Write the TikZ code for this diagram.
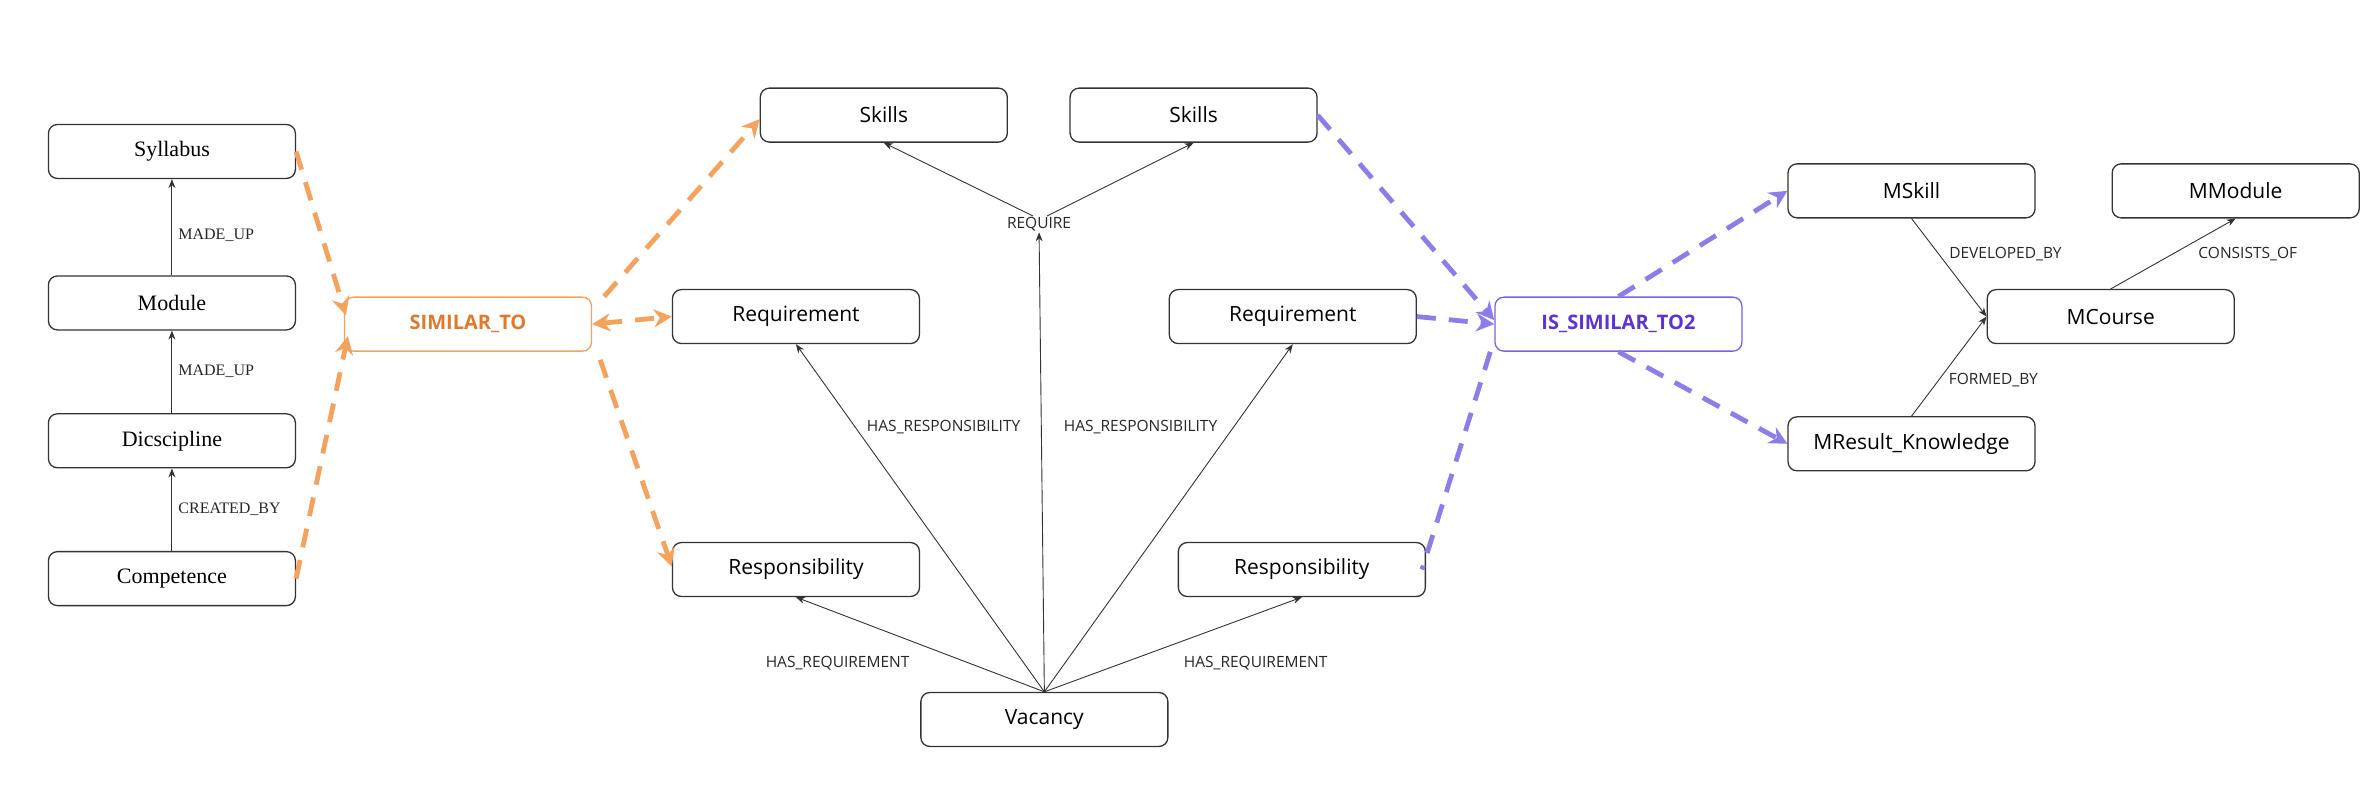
\documentclass[tikz,border=0pt]{standalone}
\usepackage{fontspec}
\newfontfamily\sansf{Open Sans}
\newfontfamily\seriff{Liberation Serif}
\usetikzlibrary{arrows.meta}
\definecolor{orangeline}{HTML}{F4A25C}
\definecolor{orangetext}{HTML}{E0792C}
\definecolor{purpleline}{HTML}{8B7EE8}
\definecolor{purpletext}{HTML}{5E33D3}
\definecolor{purpleedge}{HTML}{7D5FE3}
\definecolor{edgegray}{HTML}{333333}
\tikzset{
  entity/.style={draw=edgegray, line width=1.3pt, rounded corners=9pt, fill=white,
    minimum width=247pt, minimum height=54pt, inner sep=0pt,
    font=\sansf\fontsize{21}{25}\selectfont},
  sentity/.style={entity, font=\seriff\fontsize{22}{26}\selectfont},
  relsim/.style={entity, draw=orangeline, text=orangetext,
    font=\sansf\bfseries\fontsize{20}{24}\selectfont},
  relsimp/.style={entity, draw=purpleedge, text=purpletext,
    font=\sansf\bfseries\fontsize{20}{24}\selectfont},
  elabel/.style={font=\sansf\fontsize{15.5}{18}\selectfont, inner sep=1pt, text=black!85},
  slabel/.style={font=\seriff\fontsize{16}{19}\selectfont, inner sep=1pt, text=black!85},
  rel/.style={draw=edgegray, line width=0.9pt, -{Stealth[length=9pt,width=7pt]}},
  odash/.style={draw=orangeline, line width=4.8pt, dash pattern=on 19pt off 13pt,
    -{Stealth[length=18pt,width=18pt]}},
  pdash/.style={draw=purpleline, line width=4.8pt, dash pattern=on 19pt off 13pt,
    -{Stealth[length=18pt,width=18pt]}},
}
\begin{document}
\begin{tikzpicture}[x=1.5147pt, y=-1.5147pt]
\useasboundingbox (0,0) rectangle (1568,523);

% curriculum chain (left)
\node[sentity] (syl) at (113.5,100) {Syllabus};
\node[sentity] (mod) at (113.5,200) {Module};
\node[sentity] (dis) at (113.5,291) {Dicscipline};
\node[sentity] (com) at (113.5,382) {Competence};

\draw[rel] (mod.north) -- (syl.south);
\draw[rel] (dis.north) -- (mod.south);
\draw[rel] (com.north) -- (dis.south);
\node[slabel, anchor=west] (l1) at (117,155) {MADE\_UP};
\node[slabel, anchor=west] (l2) at (117,245) {MADE\_UP};
\node[slabel, anchor=west] (l3) at (117,336) {CREATED\_BY};

% similarity relations
\node[relsim] (sim) at (309,214) {SIMILAR\_TO};
\node[relsimp] (sim2) at (1068.5,214) {IS\_SIMILAR\_TO2};

% vacancy graph (middle)
\node[entity] (sk1) at (583.5,76) {Skills};
\node[entity] (sk2) at (788,76) {Skills};
\node[entity] (rq1) at (525.5,209) {Requirement};
\node[entity] (rq2) at (853.5,209) {Requirement};
\node[entity] (rs1) at (525.5,376) {Responsibility};
\node[entity] (rs2) at (859.5,376) {Responsibility};
\node[entity] (vac) at (689.5,475) {Vacancy};

\node[elabel] (req) at (686,148) {REQUIRE};
\draw[rel] (vac.north) -- (req.south);
\draw[rel] ([xshift=-6pt]req.north) -- (sk1.south);
\draw[rel] ([xshift=8pt]req.north) -- (sk2.south);
\draw[rel] (vac.north) -- (rq1.south);
\draw[rel] (vac.north) -- (rq2.south);
\draw[rel] (vac.north) -- (rs1.south);
\draw[rel] (vac.north) -- (rs2.south);
\node[elabel] (hr1) at (623,282) {HAS\_RESPONSIBILITY};
\node[elabel] (hr2) at (753,282) {HAS\_RESPONSIBILITY};
\node[elabel] (hq1) at (553,438) {HAS\_REQUIREMENT};
\node[elabel] (hq2) at (829,438) {HAS\_REQUIREMENT};

% course graph (right)
\node[entity] (msk) at (1262,126) {MSkill};
\node[entity] (mmo) at (1476,126) {MModule};
\node[entity] (mco) at (1393.5,209) {MCourse};
\node[entity] (mrk) at (1262,293) {MResult\_Knowledge};
\draw[rel] (msk.south) -- (mco.west);
\draw[rel] (mrk.north) -- (mco.west);
\draw[rel] (mco.north) -- (mmo.south);
\node[elabel] (ld) at (1324,168) {DEVELOPED\_BY};
\node[elabel] (lc) at (1484,168) {CONSISTS\_OF};
\node[elabel] (lf) at (1316,251) {FORMED\_BY};

% orange dashed links
\draw[odash] (syl.east) -- ([xshift=2pt,yshift=9pt]sim.west);
\draw[odash] (com.east) -- ([xshift=4pt,yshift=-12pt]sim.west);
\draw[odash] ([xshift=12pt]sim.north east) -- ([yshift=-4pt]sk1.west);
\draw[odash, {Stealth[length=18pt,width=18pt]}-{Stealth[length=18pt,width=18pt]}] (sim.east) -- (rq1.west);
\draw[odash] ([xshift=8pt,yshift=-8pt]sim.south east) -- ([yshift=3pt]rs1.west);

% purple dashed links
\draw[pdash] (sk2.east) -- ([yshift=4pt]sim2.west);
\draw[pdash] (rq2.east) -- (sim2.west);
\draw[pdash, -] ([xshift=-4pt]sim2.south west) -- ([xshift=-4pt]rs2.east);
\draw[pdash] (sim2.north) -- (msk.west);
\draw[pdash] (sim2.south) -- (mrk.west);
\end{tikzpicture}
\end{document}
